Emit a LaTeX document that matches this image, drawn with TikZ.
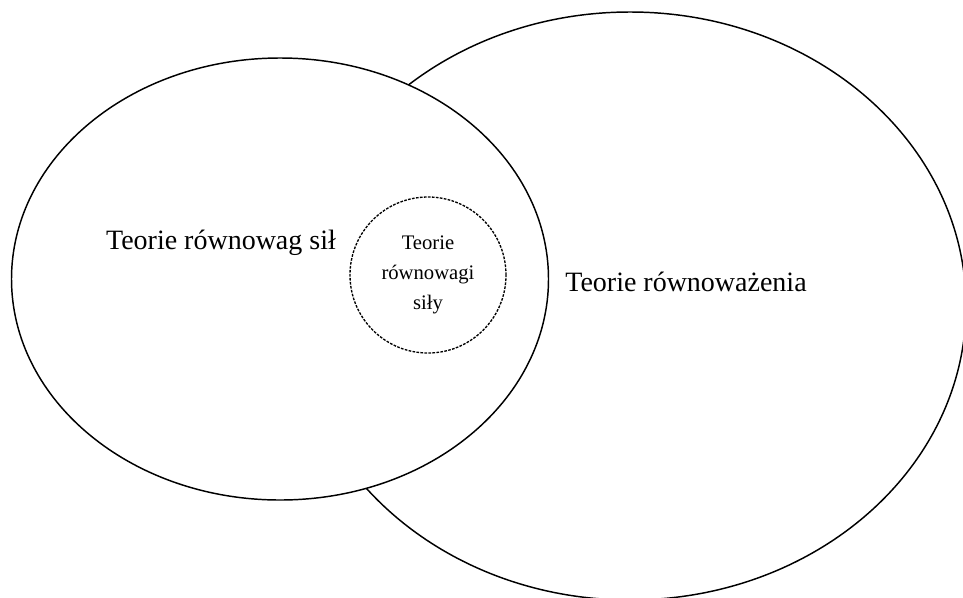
\documentclass[tikz,border=0pt]{standalone}
\usepackage{fontspec}
\setmainfont{Liberation Serif}
\usetikzlibrary{shapes.geometric,positioning}

\tikzset{
  set/.style={draw, ellipse, line width=1.1pt, inner sep=0pt},
  subset/.style={draw, circle, line width=1pt, dash pattern=on 2pt off 1pt, inner sep=0pt},
  label/.style={font=\fontsize{21}{25}\selectfont},
  sublabel/.style={font=\fontsize{15.5}{22.5}\selectfont, align=center}
}

\begin{document}
\begin{tikzpicture}[x=0.75pt,y=-0.75pt]
    \useasboundingbox (0,0) rectangle (963,597);

    % Sets
    \node[set, minimum width=672pt*0.75, minimum height=588pt*0.75] (balancing) at (630,306) {};
    \node[set, fill=white, minimum width=537pt*0.75, minimum height=442pt*0.75] (powers) at (280,279) {};
    \node[subset, minimum size=156pt*0.75] (power) at (428,275) {};

    % Labels
    \node[label] (powersText) at (221,243) {Teorie równowag sił};
    \node[label] (balancingText) at (686,282) {Teorie równoważenia};
    \node[sublabel] (powerText) at (power) {Teorie\\równowagi\\siły};
\end{tikzpicture}
\end{document}
